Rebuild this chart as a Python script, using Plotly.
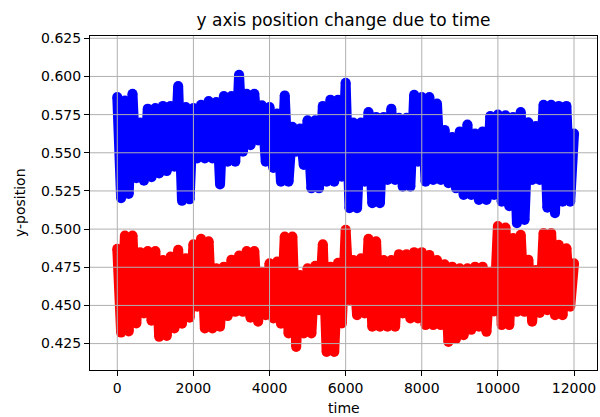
import plotly.graph_objects as go

# sample times (peaks at even hundreds, troughs at odd hundreds)
time_hi = list(range(0, 12001, 200))
time_lo = list(range(100, 12000, 200))

blue_hi = [0.5865, 0.5843, 0.5887, 0.5698, 0.5789, 0.5793, 0.5807, 0.5807, 0.5937, 0.5800,
           0.5793, 0.5815, 0.5839, 0.5833, 0.5872, 0.5872, 0.6011, 0.5887, 0.5887, 0.5811,
           0.5800, 0.5757, 0.5876, 0.5670, 0.5659, 0.5713, 0.5713, 0.5807, 0.5848, 0.5848,
           0.5959, 0.5698, 0.5698, 0.5767, 0.5735, 0.5735, 0.5789, 0.5730, 0.5730, 0.5880,
           0.5865, 0.5865, 0.5822, 0.5650, 0.5604, 0.5640, 0.5685, 0.5626, 0.5640, 0.5741,
           0.5750, 0.5746, 0.5735, 0.5767, 0.5700, 0.5676, 0.5815, 0.5815, 0.5807, 0.5807,
           0.5626]
blue_lo = [0.5202, 0.5230, 0.5333, 0.5317, 0.5340, 0.5365, 0.5380, 0.5409, 0.5185, 0.5195,
           0.5463, 0.5463, 0.5463, 0.5293, 0.5441, 0.5441, 0.5507, 0.5550, 0.5580, 0.5441,
           0.5400, 0.5311, 0.5311, 0.5507, 0.5420, 0.5267, 0.5267, 0.5311, 0.5311, 0.5343,
           0.5137, 0.5137, 0.5311, 0.5170, 0.5170, 0.5322, 0.5322, 0.5278, 0.5278, 0.5441,
           0.5311, 0.5322, 0.5322, 0.5300, 0.5267, 0.5224, 0.5224, 0.5191, 0.5191, 0.5224,
           0.5180, 0.5150, 0.5039, 0.5060, 0.5322, 0.5322, 0.5140, 0.5104, 0.5180, 0.5180]
red_hi = [0.4871, 0.4958, 0.4958, 0.4849, 0.4857, 0.4857, 0.4798, 0.4820, 0.4864, 0.4809,
          0.4900, 0.4936, 0.4920, 0.4743, 0.4754, 0.4800, 0.4827, 0.4857, 0.4857, 0.4721,
          0.4776, 0.4787, 0.4952, 0.4952, 0.4700, 0.4743, 0.4760, 0.4901, 0.4754, 0.4780,
          0.4996, 0.4798, 0.4809, 0.4936, 0.4920, 0.4798, 0.4798, 0.4836, 0.4836, 0.4849,
          0.4849, 0.4831, 0.4798, 0.4770, 0.4754, 0.4743, 0.4743, 0.4754, 0.4754, 0.4721,
          0.5020, 0.5010, 0.4941, 0.4963, 0.4800, 0.4732, 0.4974, 0.4974, 0.4897, 0.4875,
          0.4776]
red_lo = [0.4322, 0.4330, 0.4382, 0.4447, 0.4400, 0.4294, 0.4300, 0.4349, 0.4380, 0.4420,
          0.4491, 0.4349, 0.4349, 0.4360, 0.4430, 0.4458, 0.4458, 0.4420, 0.4393, 0.4436,
          0.4414, 0.4380, 0.4316, 0.4228, 0.4316, 0.4316, 0.4469, 0.4195, 0.4195, 0.4382,
          0.4535, 0.4436, 0.4447, 0.4360, 0.4360, 0.4360, 0.4360, 0.4447, 0.4414, 0.4414,
          0.4371, 0.4371, 0.4371, 0.4261, 0.4280, 0.4305, 0.4340, 0.4360, 0.4327, 0.4460,
          0.4371, 0.4371, 0.4458, 0.4458, 0.4393, 0.4450, 0.4469, 0.4436, 0.4436, 0.4491]

x_ticks = [0, 2000, 4000, 6000, 8000, 10000, 12000]
y_ticks = [0.425, 0.450, 0.475, 0.500, 0.525, 0.550, 0.575, 0.600, 0.625]

title_text = "y axis position change due to time"
x_label = "time"
y_label = "y-position"


def interleave(hi, lo):
    xs, ys = [], []
    for i in range(len(hi)):
        xs.append(time_hi[i]); ys.append(hi[i])
        if i < len(lo):
            xs.append(time_lo[i]); ys.append(lo[i])
    return xs, ys


FONT = "DejaVu Sans"
fig = go.Figure()
for name, hi, lo, color in [("red", red_hi, red_lo, "#ff0000"),
                            ("blue", blue_hi, blue_lo, "#0000ff")]:
    xs, ys = interleave(hi, lo)
    fig.add_trace(go.Scatter(x=xs, y=ys, mode="lines+markers", name=name,
                             line=dict(color=color, width=10),
                             marker=dict(color=color, size=10, line=dict(width=0)),
                             showlegend=False, hoverinfo="skip"))

shapes = []
for v in x_ticks:
    shapes.append(dict(type="line", xref="x", yref="paper", x0=v, x1=v, y0=0, y1=1,
                       line=dict(color="#b0b0b0", width=1), layer="above"))
for v in y_ticks:
    shapes.append(dict(type="line", xref="paper", yref="y", x0=0, x1=1, y0=v, y1=v,
                       line=dict(color="#b0b0b0", width=1), layer="above"))

fig.update_layout(
    width=600, height=417,
    margin=dict(l=90, r=3, t=36, b=47, autoexpand=False),
    paper_bgcolor="white", plot_bgcolor="white",
    font=dict(family=FONT, size=14, color="black"),
    title=dict(text=title_text, x=0.5, xref="paper", y=1 - 20 / 417, yref="container",
               xanchor="center", yanchor="middle", automargin=False,
               font=dict(size=17, family=FONT, color="black")),
    shapes=shapes,
    annotations=[
        dict(text=x_label, xref="paper", yref="paper", x=0.5, y=-0.114,
             xanchor="center", yanchor="middle", showarrow=False, font=dict(size=14)),
        dict(text=y_label, xref="paper", yref="paper", x=-0.138, y=0.5, textangle=-90,
             xanchor="center", yanchor="middle", showarrow=False, font=dict(size=14)),
    ],
)
fig.update_xaxes(range=[-717, 12604], tickvals=x_ticks, ticktext=[str(v) for v in x_ticks],
                 showgrid=False, zeroline=False, showline=True, linecolor="black", linewidth=1,
                 mirror=True, ticks="outside", ticklen=5, tickcolor="black", layer="above traces",
                 automargin=False)
fig.update_yaxes(range=[0.4077, 0.6265], tickvals=y_ticks, ticktext=[f"{v:.3f}" for v in y_ticks],
                 showgrid=False, zeroline=False, showline=True, linecolor="black", linewidth=1,
                 mirror=True, ticks="outside", ticklen=5, tickcolor="black", layer="above traces",
                 automargin=False)

fig.write_html("out.html", config={"displayModeBar": False},
               post_script="document.body.style.margin='0px';document.body.style.overflow='hidden';")
